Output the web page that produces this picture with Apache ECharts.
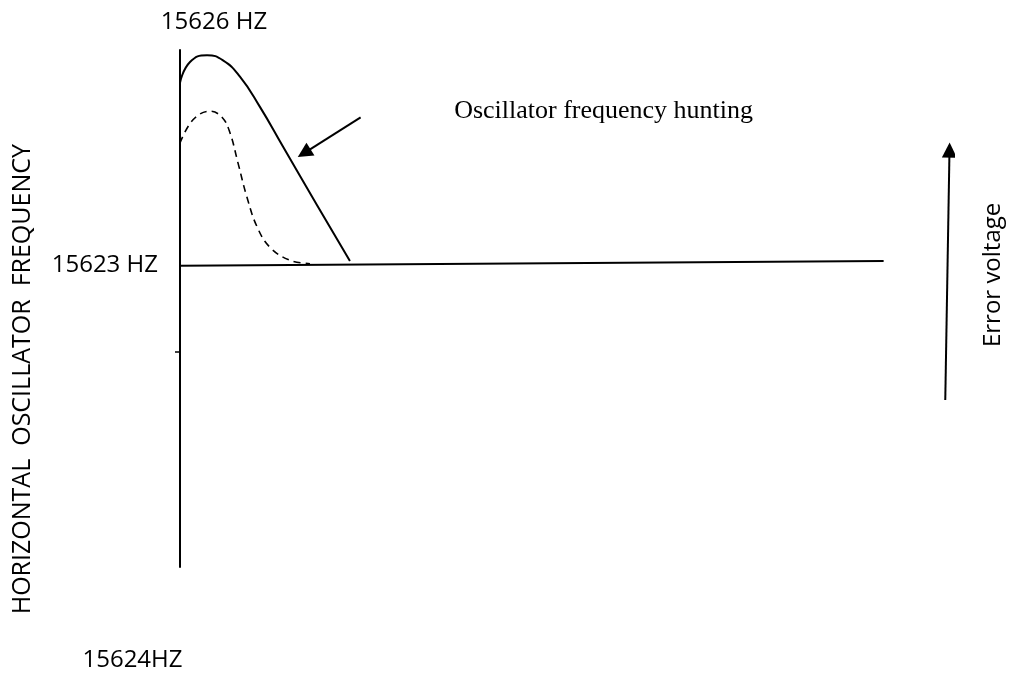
<!DOCTYPE html>
<html>
<head>
<meta charset="utf-8">
<title>Oscillator frequency hunting</title>
<script src="https://cdn.jsdelivr.net/npm/echarts@6/dist/echarts.min.js"></script>
<style>
  html, body { margin: 0; padding: 0; background: #ffffff; }
  #chart { width: 1011px; height: 677px; }
</style>
</head>
<body>
<div id="chart"></div>
<script>
// Frequency response after a disturbance (time runs left to right, arbitrary units)
var huntingX = [0, 1.42, 3.84, 6.11, 8.52, 11.36, 14.63, 19.46, 24.15];
var huntingY = [5.62, 5.86, 5.94, 5.88, 5.69, 5.34, 4.88, 4.20, 3.55];

var dampedX = [0, 1.85, 4.26, 5.97, 7.10, 8.24, 9.52, 10.94, 12.78, 15.63, 18.47];
var dampedY = [4.92, 5.19, 5.29, 5.22, 5.04, 4.69, 4.29, 3.95, 3.71, 3.56, 3.52];

// Locked frequency reference line
var lockedX = [0, 100];
var lockedY = [3.497, 3.55];

// Axis labelling
var yTickValues = [2.5];
var yLabelValues = [3.5];
var yLabelTexts = ['15623 HZ'];
var topLabel = '15626 HZ';
var bottomLabel = '15624HZ';
var yTitle = 'HORIZONTAL  OSCILLATOR  FREQUENCY';
var huntingCaption = 'Oscillator frequency hunting';
var errorCaption = 'Error voltage';

// Arrow end points: [tail, head]
var huntingArrow = [[25.67, 5.219], [17.64, 4.804]];
var errorArrow = [[108.76, 1.938], [109.36, 4.839]];

function zip(xs, ys) {
  return xs.map(function (x, i) { return [x, ys[i]]; });
}

var sansFont = '"Open Sans", "Noto Sans", sans-serif';
var serifFont = '"Liberation Serif", "DejaVu Serif", serif';

var textItems = [
  { value: [60.2, 5.29], name: huntingCaption,
    label: { fontFamily: serifFont, fontSize: 26 } },
  { value: [4.83, 6.325], name: topLabel, label: {} },
  { value: [-6.75, -1.085], name: bottomLabel, label: {} },
  { value: [115.6, 3.39], name: errorCaption, label: { rotate: 90 } },
  { value: [-22.3, 2.18], name: yTitle, label: { rotate: 90, fontSize: 25 } }
];

var chart = echarts.init(document.getElementById('chart'), null, { renderer: 'canvas' });

chart.setOption({
  backgroundColor: '#ffffff',
  animation: false,
  grid: {
    left: 180, right: 57, top: 50, bottom: 110,
    containLabel: false,
    outerBoundsMode: 'none'
  },
  xAxis: {
    type: 'value', min: 0, max: 110, show: false
  },
  yAxis: {
    type: 'value', min: 0, max: 6,
    splitLine: { show: false },
    axisLine: { show: true, lineStyle: { color: '#000000', width: 2 } },
    axisTick: {
      show: true, inside: false, length: 5,
      customValues: yTickValues,
      lineStyle: { color: '#000000', width: 1.5 }
    },
    axisLabel: {
      show: true,
      customValues: yLabelValues,
      formatter: function (v) {
        var i = yLabelValues.indexOf(v);
        return i >= 0 ? yLabelTexts[i] : '';
      },
      color: '#000000',
      fontFamily: sansFont,
      fontSize: 24,
      margin: 22,
      padding: [12, 0, 0, 0]
    }
  },
  series: [
    {
      name: 'hunting',
      type: 'line',
      data: zip(huntingX, huntingY),
      smooth: 0.5,
      symbol: 'none',
      lineStyle: { color: '#000000', width: 2 },
      silent: true
    },
    {
      name: 'damped',
      type: 'line',
      data: zip(dampedX, dampedY),
      smooth: 0.4,
      symbol: 'none',
      lineStyle: { color: '#000000', width: 1.6, type: [7, 5] },
      silent: true
    },
    {
      name: 'locked',
      type: 'line',
      data: zip(lockedX, lockedY),
      symbol: 'none',
      lineStyle: { color: '#000000', width: 2 },
      silent: true
    },
    {
      name: 'arrows',
      type: 'lines',
      coordinateSystem: 'cartesian2d',
      symbol: ['none', 'triangle'],
      symbolSize: 15,
      lineStyle: { color: '#000000', width: 2, opacity: 1 },
      itemStyle: { color: '#000000' },
      data: [{ coords: huntingArrow }, { coords: errorArrow }],
      silent: true
    },
    {
      name: 'texts',
      type: 'scatter',
      symbolSize: 0,
      clip: false,
      silent: true,
      itemStyle: { color: '#000000', opacity: 1 },
      label: {
        show: true,
        position: 'inside',
        formatter: '{b}',
        color: '#000000',
        opacity: 1,
        textBorderWidth: 0,
        fontFamily: sansFont,
        fontSize: 24,
        align: 'center',
        verticalAlign: 'middle'
      },
      data: textItems
    }
  ]
});
</script>
</body>
</html>
